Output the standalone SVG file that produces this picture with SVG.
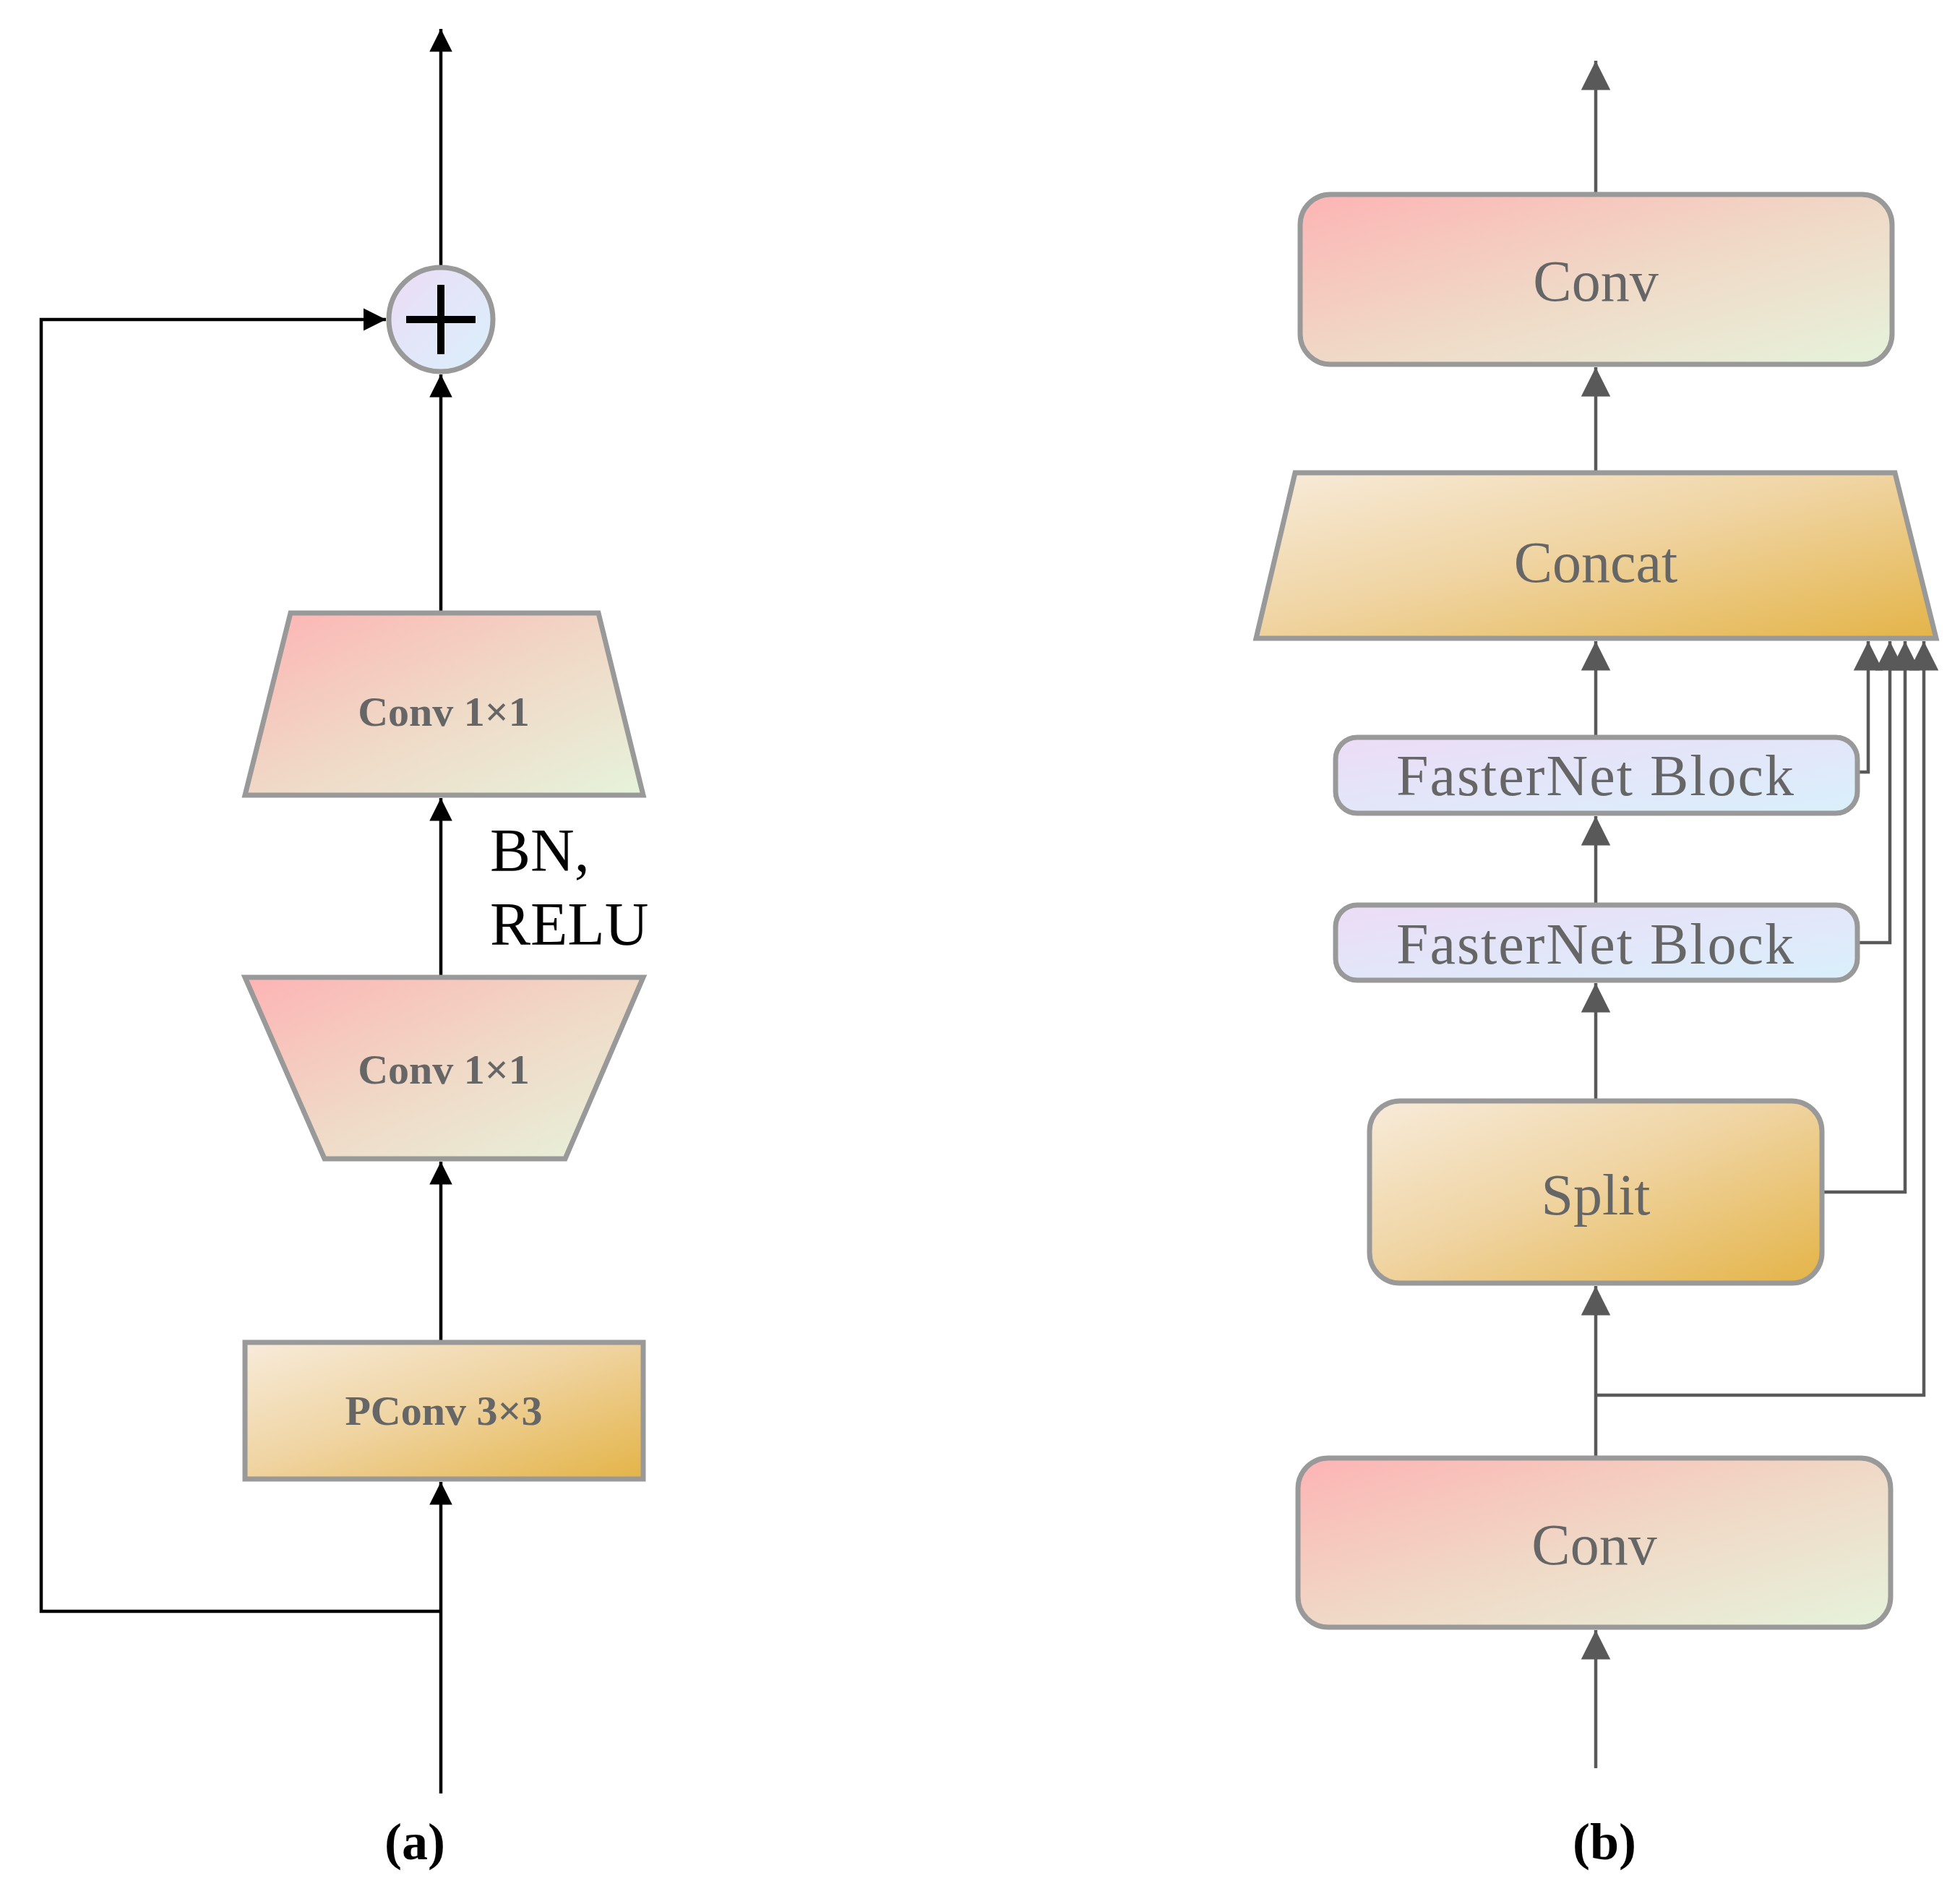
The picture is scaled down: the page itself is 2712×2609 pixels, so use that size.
<svg xmlns="http://www.w3.org/2000/svg" width="2712" height="2609" viewBox="0 0 2712 2609">
<style>
.node{stroke:#999;stroke-width:7;stroke-linejoin:miter}
.lt{font-family:"Liberation Serif",serif;font-weight:bold;font-size:58px;fill:#666;text-anchor:middle}
.rt{font-family:"Liberation Serif",serif;font-size:80px;fill:#666;text-anchor:middle}
.blk{stroke:#000;stroke-width:4.5;fill:none}
.gry{stroke:#595959;stroke-width:4.5;fill:none}
.cap{font-family:"Liberation Serif",serif;font-size:72px;fill:#000;text-anchor:middle}
</style>
<defs>
<linearGradient id="pink" x1="0" y1="0" x2="1" y2="1"><stop offset="0" stop-color="#fdb4b4"/><stop offset="0.5" stop-color="#f0d8c6"/><stop offset="1" stop-color="#e6f3db"/></linearGradient>
<linearGradient id="orng" x1="0" y1="0" x2="1" y2="1"><stop offset="0" stop-color="#f7ebda"/><stop offset="0.45" stop-color="#f0d5a4"/><stop offset="1" stop-color="#e4b448"/></linearGradient>
<linearGradient id="purp" x1="0" y1="0" x2="1" y2="1"><stop offset="0" stop-color="#ecdcf6"/><stop offset="1" stop-color="#d9f0fb"/></linearGradient>
<marker id="ab" viewBox="0 0 10 10" refX="10" refY="5" markerWidth="7" markerHeight="7" markerUnits="strokeWidth" orient="auto"><path d="M0,0L10,5L0,10z" fill="#000"/></marker>
<marker id="ag" viewBox="0 0 10 10" refX="10" refY="5" markerWidth="9" markerHeight="9.5" markerUnits="strokeWidth" orient="auto"><path d="M0,0L10,5L0,10z" fill="#595959"/></marker>
</defs>
<g id="connectors">
<path class="blk" d="M610,2481V2050" marker-end="url(#ab)"/>
<path class="blk" d="M610,1857V1607" marker-end="url(#ab)"/>
<path class="blk" d="M610,1352V1104" marker-end="url(#ab)"/>
<path class="blk" d="M610,848V518" marker-end="url(#ab)"/>
<path class="blk" d="M610,368V40" marker-end="url(#ab)"/>
<path class="blk" d="M610,2229H57V442H534" marker-end="url(#ab)"/>
<path class="gry" d="M2208,2446V2255" marker-end="url(#ag)"/>
<path class="gry" d="M2208,2017V1779" marker-end="url(#ag)"/>
<path class="gry" d="M2208,1523V1360" marker-end="url(#ag)"/>
<path class="gry" d="M2208,1252V1129" marker-end="url(#ag)"/>
<path class="gry" d="M2208,1020V887" marker-end="url(#ag)"/>
<path class="gry" d="M2208,654V508" marker-end="url(#ag)"/>
<path class="gry" d="M2208,269V84" marker-end="url(#ag)"/>
<path class="gry" d="M2570,1068H2585V887" marker-end="url(#ag)"/>
<path class="gry" d="M2570,1304H2615V887" marker-end="url(#ag)"/>
<path class="gry" d="M2521,1649H2636V887" marker-end="url(#ag)"/>
<path class="gry" d="M2208,1930H2662V887" marker-end="url(#ag)"/>
</g>
<g id="add"><circle cx="610" cy="442" r="72" fill="url(#purp)" class="node"/><path d="M562,442H658M610,394V490" stroke="#000" stroke-width="10"/></g>
<g id="conv1x1_top"><polygon class="node" fill="url(#pink)" points="402,848 828,848 890,1100 339,1100"/><text class="lt" x="614" y="1004">Conv 1×1</text></g>
<g id="bnrelu"><text class="cap" x="678" y="1205" text-anchor="start" font-size="84" style="text-anchor:start;font-size:84px">BN,</text><text x="678" y="1307" style="font-family:'Liberation Serif',serif;font-size:84px">RELU</text></g>
<g id="conv1x1_bot"><polygon class="node" fill="url(#pink)" points="339,1352 890,1352 782,1603 449,1603"/><text class="lt" x="614" y="1499">Conv 1×1</text></g>
<g id="pconv"><rect class="node" fill="url(#orng)" x="339" y="1857" width="551" height="189"/><text class="lt" x="614" y="1971">PConv 3×3</text></g>
<text class="cap" x="574" y="2572" font-weight="bold">(<tspan font-weight="bold">a</tspan>)</text>
<g id="conv_top"><rect class="node" fill="url(#pink)" x="1799" y="269" width="819" height="235" rx="42"/><text class="rt" x="2208" y="416">Conv</text></g>
<g id="concat"><polygon class="node" fill="url(#orng)" points="1792,654 2622,654 2679,883 1738,883"/><text class="rt" x="2208" y="805">Concat</text></g>
<g id="fb1"><rect class="node" fill="url(#purp)" x="1848" y="1020" width="722" height="105" rx="30"/><text class="rt" x="2208" y="1100" letter-spacing="2">FasterNet Block</text></g>
<g id="fb2"><rect class="node" fill="url(#purp)" x="1848" y="1252" width="722" height="104" rx="30"/><text class="rt" x="2208" y="1333" letter-spacing="2">FasterNet Block</text></g>
<g id="split"><rect class="node" fill="url(#orng)" x="1895" y="1523" width="626" height="252" rx="42"/><text class="rt" x="2208" y="1680">Split</text></g>
<g id="conv_bot"><rect class="node" fill="url(#pink)" x="1796" y="2017" width="820" height="234" rx="42"/><text class="rt" x="2206" y="2164">Conv</text></g>
<text class="cap" x="2220" y="2572" font-weight="bold">(b)</text>
</svg>
